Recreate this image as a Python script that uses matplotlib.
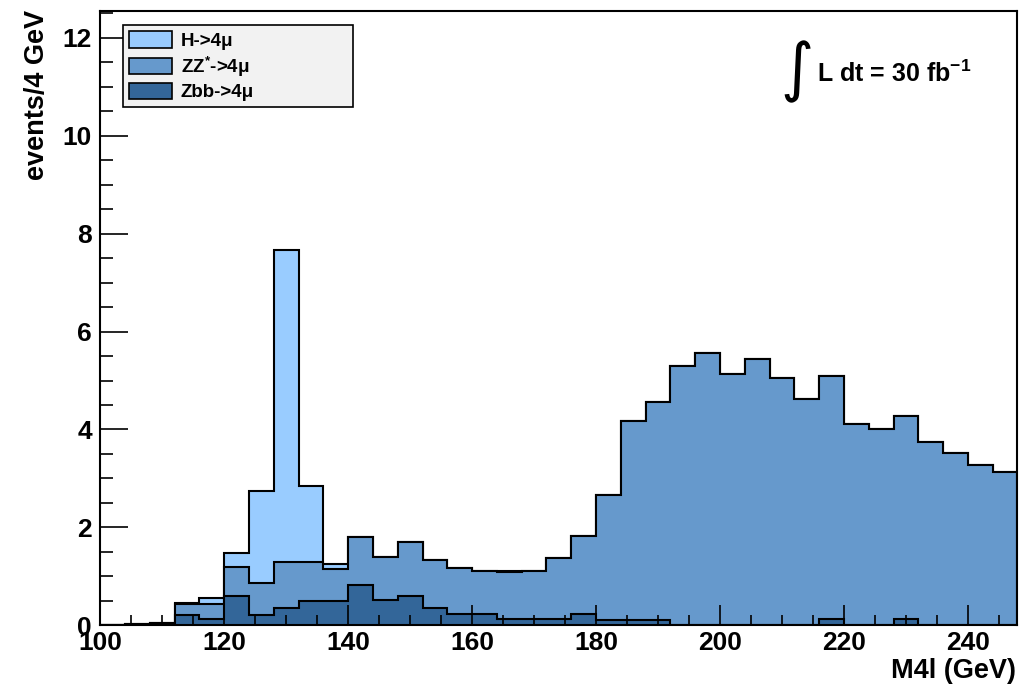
import numpy as np
import matplotlib
matplotlib.use("Agg")
import matplotlib.pyplot as plt
from matplotlib.patches import Patch

plt.rcParams.update({
    "font.family": ["Liberation Sans", "DejaVu Sans"],
    "font.weight": "bold",
    "mathtext.fontset": "custom",
    "mathtext.rm": "Liberation Sans:bold",
    "mathtext.bf": "Liberation Sans:bold",
    "axes.linewidth": 1.5,
})

# 4 GeV bins, 100 -> 248 GeV
bin_lo = 100
bin_hi = 248
bin_w = 4

# per-sample contents (events / 4 GeV)
zbb = [0, 0, 0, 0.21, 0.12, 0.59, 0.21, 0.35, 0.50, 0.50, 0.82, 0.51, 0.59,
       0.35, 0.22, 0.22, 0.12, 0.12, 0.12, 0.22, 0.10, 0.10, 0.10, 0, 0, 0,
       0, 0, 0, 0.12, 0, 0, 0.12, 0, 0, 0, 0]
zz = [0, 0.03, 0.05, 0.22, 0.31, 0.60, 0.66, 0.94, 0.79, 0.65, 0.99, 0.89,
      1.11, 0.98, 0.95, 0.88, 0.96, 0.98, 1.25, 1.61, 2.57, 4.08, 4.46, 5.30,
      5.56, 5.13, 5.45, 5.05, 4.62, 4.98, 4.12, 4.02, 4.16, 3.75, 3.51, 3.28,
      3.14]
higgs = [0, 0, 0, 0.02, 0.13, 0.28, 1.88, 6.37, 1.55, 0.11, 0, 0, 0, 0, 0, 0,
         0.02, 0, 0, 0, 0, 0, 0, 0, 0, 0, 0, 0, 0, 0, 0, 0, 0, 0, 0, 0, 0]

labels = ["H->4μ", "ZZ$^{*}$->4μ", "Zbb->4μ"]
colors = ["#99ccff", "#6699cc", "#336699"]

edges = np.arange(bin_lo, bin_hi + bin_w, bin_w)
s_zbb = np.array(zbb)
s_zz = s_zbb + np.array(zz)
s_tot = s_zz + np.array(higgs)

fig = plt.figure(figsize=(10.34, 6.89), dpi=100)
ax = fig.add_axes([0.097, 0.0925, 0.887, 0.8915])

# THStack style: cumulative histograms drawn back to front
for vals, c in zip([s_tot, s_zz, s_zbb], colors):
    ax.stairs(vals, edges, fill=True, facecolor=c, edgecolor="black",
              linewidth=1.5)

ax.set_xlim(bin_lo, bin_hi)
ax.set_ylim(0, 12.55)
ax.set_xticks(np.arange(100, 241, 20))
ax.set_xticks(np.arange(100, 248, 5), minor=True)
ax.set_yticks(np.arange(0, 13, 2))
ax.set_yticks(np.arange(0, 12.6, 0.5), minor=True)
ax.tick_params(axis="x", which="major", direction="in", length=14.5,
               width=1.2, labelsize=19, pad=4)
ax.tick_params(axis="x", which="minor", direction="in", length=7.2, width=1.2)
ax.tick_params(axis="y", which="major", direction="in", length=20,
               width=1.2, labelsize=19, pad=6)
ax.tick_params(axis="y", which="minor", direction="in", length=9.5, width=1.2)
for lab in ax.get_xticklabels() + ax.get_yticklabels():
    lab.set_fontweight("bold")

ax.set_xlabel("M4l (GeV)", fontsize=19.5, fontweight="bold", loc="right")
ax.xaxis.set_label_coords(0.9985, -0.054)
ax.set_ylabel("events/4 GeV", fontsize=19.5, fontweight="bold", loc="top")
ax.yaxis.set_label_coords(-0.055, 1.002)

handles = [Patch(facecolor=c, edgecolor="black", linewidth=1.2) for c in colors]
leg = ax.legend(handles, labels, loc="upper left", mode="expand",
                bbox_to_anchor=(0.0251, 0.854, 0.2508, 0.123), borderaxespad=0,
                prop={"size": 13.5, "weight": "bold"},
                handlelength=2.3, handleheight=1.0, handletextpad=0.45,
                labelspacing=0.22, borderpad=0.3,
                fancybox=False, framealpha=1, facecolor="#f2f2f2",
                edgecolor="black")
leg.get_frame().set_linewidth(1.2)

fig.text(0.7705, 0.896, "∫", fontsize=46, family="DejaVu Sans",
         ha="center", va="center", fontweight="normal")
fig.text(0.790, 0.893, "L dt = 30 fb$^{\\mathbf{-1}}$", fontsize=18,
         fontweight="bold", ha="left", va="center")

fig.savefig("out.png", dpi=100)
